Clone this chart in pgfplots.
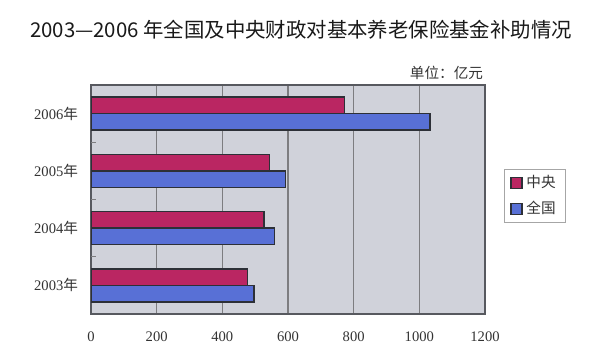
\documentclass[border=0pt]{standalone}
\usepackage{fontspec}
\setmainfont{Liberation Serif}
\newfontfamily\cjk{Noto Sans CJK SC}
\usepackage{pgfplots}
\pgfplotsset{compat=1.18}
\definecolor{zy}{RGB}{186,38,98}
\definecolor{qg}{RGB}{88,112,214}
\definecolor{bg}{RGB}{208,210,218}
\definecolor{gl}{RGB}{125,125,128}
\definecolor{ed}{RGB}{45,48,55}
\begin{document}
\begin{tikzpicture}
\path[use as bounding box] (0,0) rectangle (300bp,178.5bp);
\node[font=\cjk\fontsize{10.2bp}{12bp}\selectfont, text=black!90] at (150.5bp,163.5bp) {2003—2006 年全国及中央财政对基本养老保险基金补助情况};
\node[font=\cjk\fontsize{7.3bp}{9bp}\selectfont, text=black!80, anchor=east] at (245bp,142bp) {单位：亿元};
\begin{axis}[
  at={(45.5bp,21.5bp)}, anchor=south west,
  width=197bp, height=114.5bp, scale only axis,
  xbar, bar width=0.288,
  xmin=0, xmax=1200, ymin=-0.5, ymax=3.5,
  xtick={0,200,...,1200},
  ytick={0,1,2,3},
  yticklabels={2003{\cjk 年},2004{\cjk 年},2005{\cjk 年},2006{\cjk 年}},
  extra y ticks={0.5,1.5,2.5},
  extra y tick labels={},
  extra y tick style={major tick length=2.5bp, tick style={draw=gl, line width=0.5pt}, tick pos=left, tick align=inside, grid=none},
  major tick length=0pt,
  xmajorgrids, grid style={draw=gl, line width=0.6pt},
  axis background/.style={fill=bg},
  axis line style={draw=ed!80, line width=0.6pt},
  /pgf/number format/assume math mode=true,
  /pgf/number format/1000 sep={},
  tick label style={font=\fontsize{7.3bp}{9bp}\selectfont, text=black!80},
  xticklabel style={yshift=-5.5bp},
  yticklabel style={xshift=-3bp},
  legend style={at={(1.048,0.515)}, anchor=west, draw=gray!70, line width=0.4pt,
    font=\cjk\fontsize{7.3bp}{9bp}\selectfont, text=black!80,
    inner xsep=3bp, inner ysep=1bp, row sep=1.5bp, cells={anchor=west}},
  legend image code/.code={\draw[#1, draw=ed, line width=0.6pt] (0bp,-2.75bp) rectangle (5.5bp,2.75bp);},
]
\addplot[fill=zy, draw=ed, line width=0.7pt, bar shift=0.144] coordinates {(476,0) (527,1) (543,2) (772,3)};
\addlegendentry{中央}
\addplot[fill=qg, draw=ed, line width=0.7pt, bar shift=-0.144] coordinates {(496,0) (558,1) (593,2) (1032,3)};
\addlegendentry{全国}
\end{axis}
\end{tikzpicture}
\end{document}
